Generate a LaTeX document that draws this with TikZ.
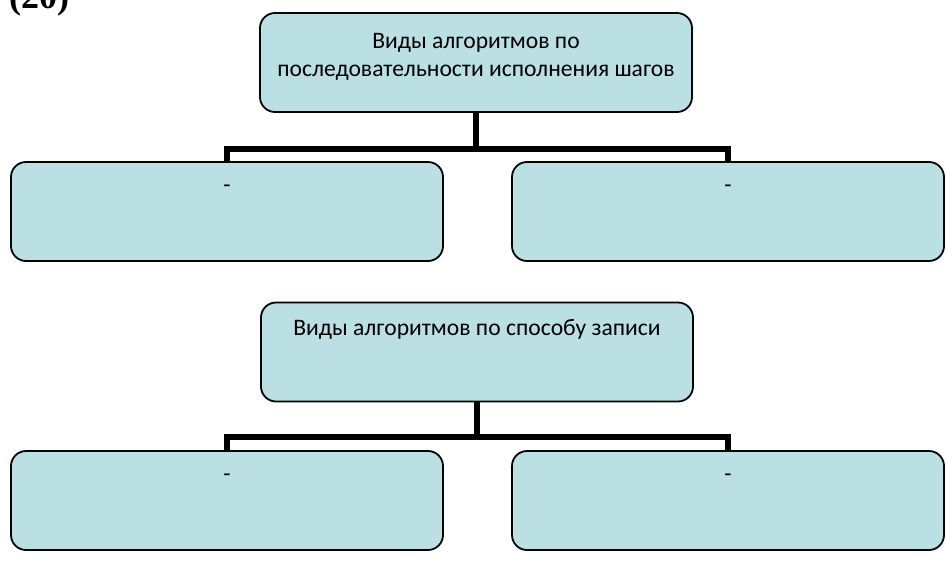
\documentclass[tikz,border=0pt]{standalone}
\usepackage{fontspec}
\setmainfont{Carlito}
\newfontfamily\headfont{Liberation Serif}
\definecolor{boxfill}{HTML}{BBE0E3}
\begin{document}
\begin{tikzpicture}[x=1pt,y=-1pt,
  box/.style={draw=black,line width=1.8pt,fill=boxfill,rounded corners=15pt,
    minimum width=432pt,minimum height=99pt,inner sep=0pt},
  lbl/.style={anchor=north,align=center,inner sep=0pt,
    font=\fontsize{23.6}{28}\selectfont},
  conn/.style={draw=black,line width=5.5pt,line join=miter,line cap=butt}]
\useasboundingbox (0,0) rectangle (946,563);
\node[anchor=base west,inner sep=0pt,font=\headfont\bfseries\fontsize{36}{36}\selectfont] (num) at (9,8) {(20)};
% group 1
\node[box,label={[lbl,yshift=-21pt]north:Виды алгоритмов по\\последовательности исполнения шагов}] (t1) at (476,62.5) {};
\node[box,label={[lbl,yshift=-24pt]north:-}] (l1) at (227,211.5) {};
\node[box,label={[lbl,yshift=-24pt]north:-}] (r1) at (728,211.5) {};
\coordinate (j1) at (476,149);
\draw[conn] (t1.south) -- (j1);
\draw[conn] (l1.north) -- (l1.north |- j1) -- (r1.north |- j1) -- (r1.north);
% group 2
\node[box,label={[lbl,yshift=-18pt]north:Виды алгоритмов по способу записи}] (t2) at (477,352) {};
\node[box,label={[lbl,yshift=-24pt]north:-}] (l2) at (227,500.5) {};
\node[box,label={[lbl,yshift=-24pt]north:-}] (r2) at (728,500.5) {};
\coordinate (j2) at (477,437);
\draw[conn] (t2.south) -- (j2);
\draw[conn] (l2.north) -- (l2.north |- j2) -- (r2.north |- j2) -- (r2.north);
\end{tikzpicture}
\end{document}
